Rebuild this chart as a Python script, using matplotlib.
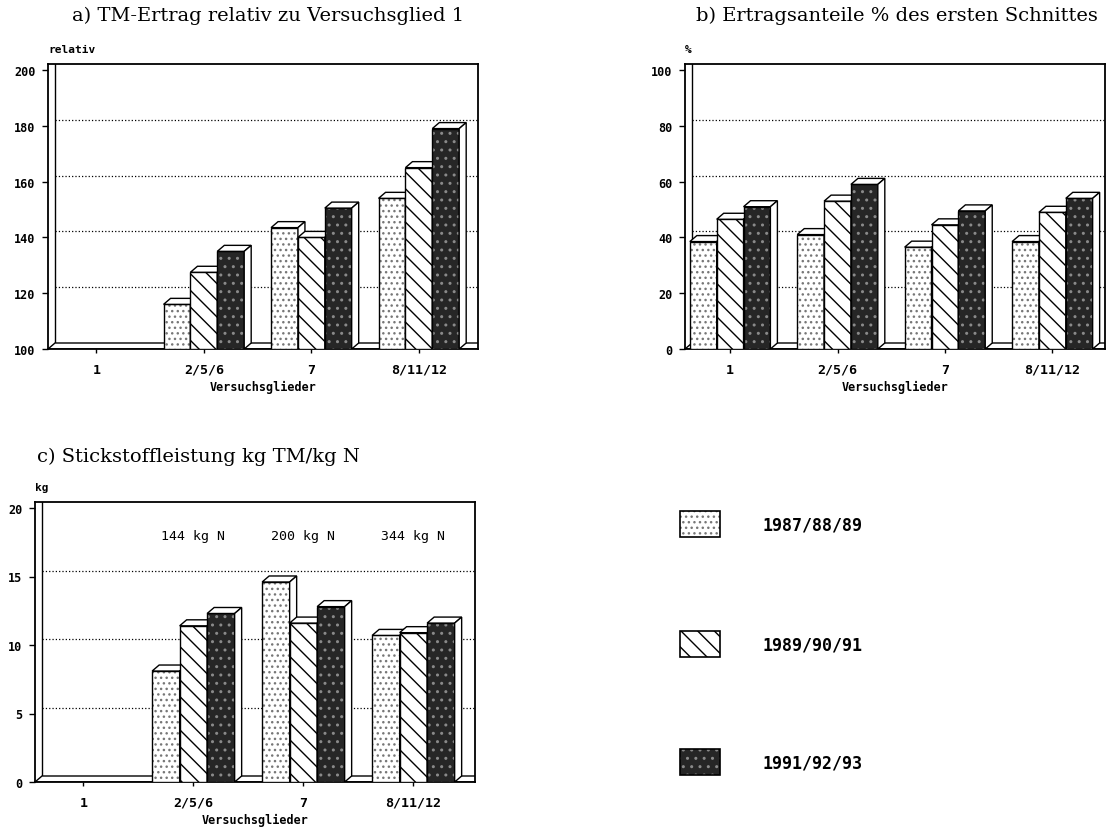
import numpy as np
import matplotlib.pyplot as plt
from matplotlib.patches import Polygon, Rectangle

# Versuchsglieder and the three periods
groups = ['1', '2/5/6', '7', '8/11/12']
years = ['1987/88/89', '1989/90/91', '1991/92/93']

# a) TM-Ertrag relativ zu Versuchsglied 1
rel_87 = [100, 116, 143.5, 154]
rel_89 = [100, 127.5, 140, 165]
rel_91 = [100, 135, 150.5, 179]

# b) Ertragsanteile % des ersten Schnittes
share_87 = [38.5, 41, 36.5, 38.5]
share_89 = [46.5, 53, 44.5, 49]
share_91 = [51, 59, 49.5, 54]

# c) Stickstoffleistung kg TM/kg N
nkg_87 = [0, 8.1, 14.6, 10.7]
nkg_89 = [0, 11.4, 11.6, 10.9]
nkg_91 = [0, 12.3, 12.8, 11.6]
n_labels = ['', '144 kg N', '200 kg N', '344 kg N']

W, H = 1109, 829
DX, DY = 7, 6          # depth of the 3d look, in pixels
BW = 0.25
MONO = 'DejaVu Sans Mono'
TITLE = 'DejaVu Serif'

# front face styles: face, hatch, hatch colour
styles = [('white', '...', '#777777'),
          ('white', '\\\\', 'black'),
          ('#262626', '..', '#8a8a8a')]

fig = plt.figure(figsize=(W / 100, H / 100), dpi=100)


def add_axes_px(l, t, r, b):
    return fig.add_axes([l / W, 1 - b / H, (r - l) / W, (b - t) / H])


def draw_panel(ax, box, series, yticks, xlim, unit):
    l, t, r, b = box
    ymin, ymax = yticks[0], yticks[-1]
    upy = (ymax - ymin) / ((b - t) - DY)
    upx = (xlim[1] - xlim[0]) / (r - l)
    dx, dy = DX * upx, DY * upy
    ytop = ymax + dy
    ax.set_xlim(*xlim)
    ax.set_ylim(ymin, ytop)

    # back wall lines and floor
    for v in yticks[1:-1]:
        ax.plot([xlim[0] + dx, xlim[1]], [v + dy, v + dy], ls=':', color='k', lw=0.9, zorder=1)
    ax.plot([xlim[0] + dx] * 2, [ymin + dy, ytop], color='k', lw=1, zorder=1)
    ax.add_patch(Polygon([(xlim[0], ymin), (xlim[1], ymin), (xlim[1] + dx, ymin + dy),
                          (xlim[0] + dx, ymin + dy)], closed=True, facecolor='white',
                         edgecolor='k', lw=1, zorder=2))

    x = np.arange(len(groups))
    for s, vals in enumerate(series):
        vals = np.array(vals, dtype=float)
        fc, hatch, hc = styles[s]
        xs = x + (s - 1) * BW
        heights = vals - ymin
        fills = ax.bar(xs, heights, BW, bottom=ymin, color=fc, hatch=hatch, edgecolor=hc, lw=0)
        outlines = ax.bar(xs, heights, BW, bottom=ymin, fill=False, edgecolor='k', lw=1)
        for g in range(len(groups)):
            z = 3 + g * 10 + s * 3
            fills[g].set_zorder(z)
            outlines[g].set_zorder(z + 0.5)
            h = vals[g]
            if h <= ymin:
                fills[g].set_visible(False)
                outlines[g].set_visible(False)
                continue
            xl, xr = xs[g] - BW / 2, xs[g] + BW / 2
            ax.add_patch(Polygon([(xl, h), (xr, h), (xr + dx, h + dy), (xl + dx, h + dy)],
                                 closed=True, facecolor='white', edgecolor='k', lw=1, zorder=z + 1))
            ax.add_patch(Polygon([(xr, ymin), (xr + dx, ymin + dy), (xr + dx, h + dy), (xr, h)],
                                 closed=True, facecolor='white', edgecolor='k', lw=1, zorder=z + 1))

    ax.set_yticks(yticks)
    ax.set_yticklabels([str(v) for v in yticks], fontfamily=MONO, fontweight='bold', fontsize=8.5)
    ax.set_xticks(x)
    ax.set_xticklabels(groups, fontfamily=MONO, fontweight='bold', fontsize=9.5)
    ax.tick_params(axis='y', length=4, width=1, pad=5)
    ax.tick_params(axis='x', length=3, width=1, pad=7)
    ax.set_xlabel('Versuchsglieder', fontfamily=MONO, fontweight='bold', fontsize=8.5, labelpad=3)
    for sp in ax.spines.values():
        sp.set_linewidth(1.3)
    ax.text(0.0, 1.035, unit, transform=ax.transAxes, fontfamily=MONO, fontweight='bold',
            fontsize=8, ha='left', va='bottom')
    return dy


box_a = (48, 65, 478, 350)
ax_a = add_axes_px(*box_a)
draw_panel(ax_a, box_a, [rel_87, rel_89, rel_91], [100, 120, 140, 160, 180, 200],
           (-0.45, 3.55), 'relativ')

box_b = (685, 65, 1105, 350)
ax_b = add_axes_px(*box_b)
draw_panel(ax_b, box_b, [share_87, share_89, share_91], [0, 20, 40, 60, 80, 100],
           (-0.42, 3.49), '%')

box_c = (35, 503, 475, 783)
ax_c = add_axes_px(*box_c)
draw_panel(ax_c, box_c, [nkg_87, nkg_89, nkg_91], [0, 5, 10, 15, 20],
           (-0.44, 3.56), 'kg')
for g, lab in enumerate(n_labels):
    if lab:
        ax_c.text(g, 18, lab, ha='center', va='center', fontfamily=MONO, fontsize=9.5)

fig.text(268 / W, 1 - 16 / H, 'a) TM-Ertrag relativ zu Versuchsglied 1', ha='center', va='center',
         fontfamily=TITLE, fontsize=14)
fig.text(897 / W, 1 - 16 / H, 'b) Ertragsanteile % des ersten Schnittes', ha='center', va='center',
         fontfamily=TITLE, fontsize=14)
fig.text(37 / W, 1 - 457 / H, 'c) Stickstoffleistung kg TM/kg N', ha='left', va='center',
         fontfamily=TITLE, fontsize=14)

# legend
ax_l = add_axes_px(670, 490, 900, 800)
ax_l.set_xlim(670, 900)
ax_l.set_ylim(800, 490)
ax_l.axis('off')
for s, (yc, lab) in enumerate(zip([525, 645, 763], years)):
    fc, hatch, hc = styles[s]
    ax_l.add_patch(Rectangle((680, yc - 13), 40, 26, facecolor=fc, hatch=hatch, edgecolor=hc, lw=0))
    ax_l.add_patch(Rectangle((680, yc - 13), 40, 26, fill=False, edgecolor='k', lw=1.2))
    ax_l.text(763, yc, lab, ha='left', va='center', fontfamily=MONO, fontweight='bold', fontsize=12)

fig.savefig('out.png', dpi=100)
